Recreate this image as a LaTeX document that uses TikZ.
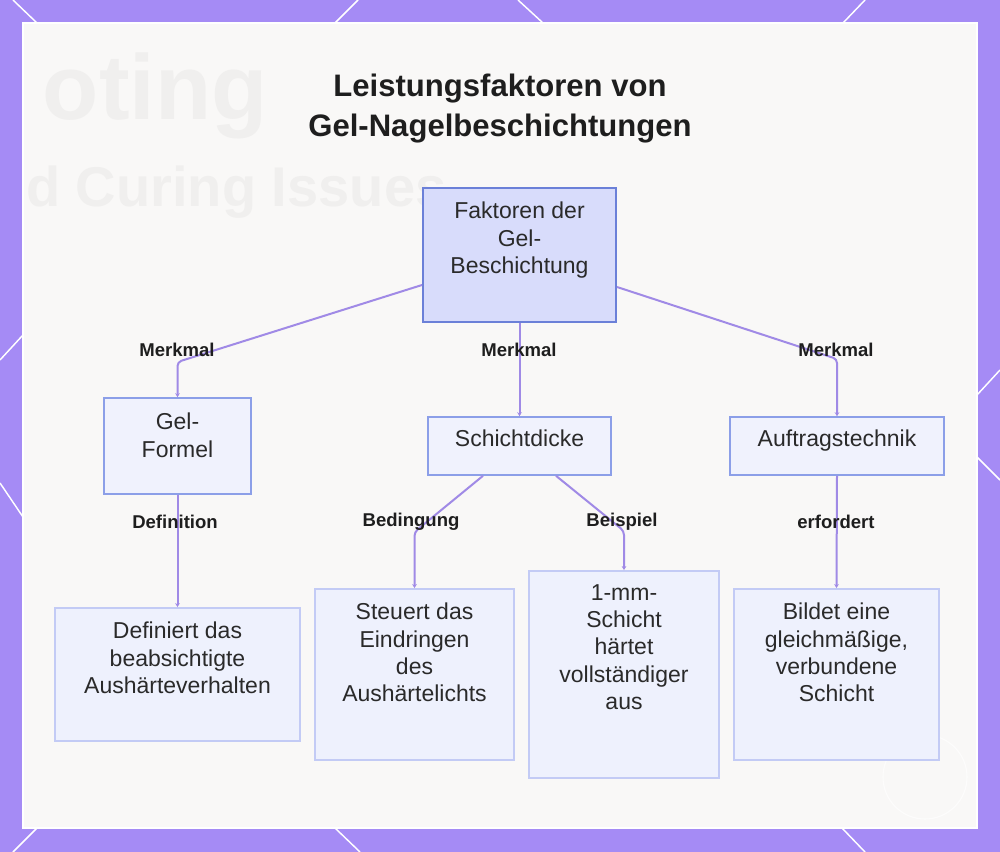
\documentclass[tikz,border=0pt]{standalone}
\usepackage{fontspec}
\setmainfont{Liberation Sans}
\usetikzlibrary{calc,arrows.meta}
\definecolor{bgpurple}{HTML}{A58BF5}
\definecolor{panel}{HTML}{F9F8F7}
\definecolor{ghost}{HTML}{F0EFEE}
\definecolor{edgecol}{HTML}{A08AE6}
\definecolor{rootfill}{HTML}{D8DCFB}
\definecolor{rootdraw}{HTML}{6B80D8}
\definecolor{midfill}{HTML}{F0F2FD}
\definecolor{middraw}{HTML}{8C9FE8}
\definecolor{leaffill}{HTML}{EEF1FD}
\definecolor{leafdraw}{HTML}{C3CBF5}
\definecolor{txt}{HTML}{2A2A2A}
\definecolor{lbl}{HTML}{1E1E1E}
\begin{document}
\begin{tikzpicture}[x=0.75pt,y=-0.75pt,
  rootbox/.style={rectangle, inner sep=0pt, fill=rootfill, draw=rootdraw, line width=1.5pt},
  midbox/.style={rectangle, inner sep=0pt, fill=midfill, draw=middraw, line width=1.2pt},
  leafbox/.style={rectangle, inner sep=0pt, fill=leaffill, draw=leafdraw, line width=1.4pt},
  boxtext/.style={anchor=north, inner sep=0pt, align=center, text=txt, font=\fontsize{17.25}{20.5}\selectfont},
  edgelabel/.style={inner sep=0pt, text=lbl, font=\fontsize{13.9}{16}\selectfont\bfseries},
  edge/.style={draw=edgecol, line width=1.5pt, rounded corners=3pt, -{Stealth[length=3pt,width=3.5pt]}},
  deco/.style={draw=white, line width=1.1pt}
]
% background and frame
\path[use as bounding box, fill=bgpurple] (0,0) rectangle (1000,852);
\draw[deco] (13,0) -- (37,23);
\draw[deco] (358,0) -- (335,23);
\draw[deco] (518,0) -- (543,23);
\draw[deco] (865,0) -- (843,23);
\draw[deco] (0,360) -- (23,335);
\draw[deco] (0,483) -- (23,517);
\draw[deco] (977,395) -- (1000,370);
\draw[deco] (977,457) -- (1000,480);
\draw[deco] (13,852) -- (37,828);
\draw[deco] (335,828) -- (360,852);
\draw[deco] (842,828) -- (865,852);
\fill[panel] (23,23) rectangle (977,828);
\draw[white, line width=1pt] (23,23) rectangle (977,828);
% faint blurred background text
\node[anchor=base east, inner sep=0pt, text=ghost, font=\fontsize{69}{80}\selectfont\bfseries] (ghostA) at (268,120) {oting};
\node[anchor=base west, inner sep=0pt, text=ghost, font=\fontsize{42}{50}\selectfont\bfseries] (ghostB) at (26,207) {d Curing Issues};
\draw[white, opacity=0.7, line width=0.8pt] (925,777) circle (42);
% title
\node[anchor=north, inner sep=0pt, align=center, text=lbl, font=\fontsize{23.3}{30}\selectfont\bfseries] (title) at (500,74) {Leistungsfaktoren von\\Gel-Nagelbeschichtungen};
% boxes
\node[rootbox, minimum width=144.75pt, minimum height=100.5pt] (root) at (519.5,255) {};
\node[midbox, minimum width=110.25pt, minimum height=72pt] (gf) at (177.5,446) {};
\node[midbox, minimum width=137.25pt, minimum height=43.5pt] (sd) at (519.5,446) {};
\node[midbox, minimum width=160.5pt, minimum height=43.5pt] (at) at (837,446) {};
\node[leafbox, minimum width=183.75pt, minimum height=99.75pt] (def) at (177.5,674.5) {};
\node[leafbox, minimum width=149.25pt, minimum height=128.25pt] (st) at (414.5,674.5) {};
\node[leafbox, minimum width=142.5pt, minimum height=155.25pt] (mm) at (624,674.5) {};
\node[leafbox, minimum width=153.75pt, minimum height=128.25pt] (bi) at (836.5,674.5) {};
% box texts
\node[boxtext] (rootT) at (519.5,202) {Faktoren der\\Gel-\\Beschichtung};
\node[boxtext] (gfT) at (177.5,413) {Gel-\\Formel};
\node[boxtext] (sdT) at (519.5,430) {Schichtdicke};
\node[boxtext] (atT) at (837,430) {Auftragstechnik};
\node[boxtext] (defT) at (177.5,622) {Definiert das\\beabsichtigte\\Aushärteverhalten};
\node[boxtext] (stT) at (414.5,603) {Steuert das\\Eindringen\\des\\Aushärtelichts};
\node[boxtext] (mmT) at (624,584) {1-mm-\\Schicht\\härtet\\vollständiger\\aus};
\node[boxtext] (biT) at (836.5,603) {Bildet eine\\gleichmäßige,\\verbundene\\Schicht};
% bend points
\coordinate (b1) at (178,362);
\coordinate (b3) at (837,359);
\coordinate (b5) at (415,532);
\coordinate (b6) at (624,531);
% connectors
\draw[edge] ($(root.west)+(0,30)$) -- (gf.north |- b1) -- (gf.north);
\draw[edge] (root.south) -- (sd.north);
\draw[edge] ($(root.east)+(0,32)$) -- (at.north |- b3) -- (at.north);
\draw[edge] (gf.south) -- (def.north);
\draw[edge] ($(sd.south)+(-36.5,0)$) -- (st.north |- b5) -- (st.north);
\draw[edge] ($(sd.south)+(36.5,0)$) -- (mm.north |- b6) -- (mm.north);
\draw[edge] (at.south) -- (bi.north);
% edge labels
\node[edgelabel] (l1) at (177,350) {Merkmal};
\node[edgelabel] (l2) at (519,350) {Merkmal};
\node[edgelabel] (l3) at (836,350) {Merkmal};
\node[edgelabel] (l4) at (175,522) {Definition};
\node[edgelabel] (l5) at (411,522) {Bedingung};
\node[edgelabel] (l6) at (622,522) {Beispiel};
\node[edgelabel] (l7) at (836,522) {erfordert};
\end{tikzpicture}
\end{document}
